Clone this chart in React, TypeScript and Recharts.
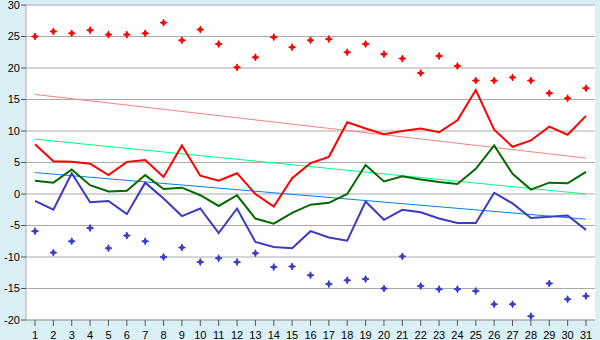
import React from 'react';
import { ComposedChart, Line, XAxis, YAxis, CartesianGrid, ReferenceLine } from 'recharts';

const days = Array.from({ length: 31 }, (_, i) => i + 1);
const maxTemps = [25.0, 25.8, 25.5, 26.0, 25.3, 25.3, 25.5, 27.2, 24.4, 26.1, 23.8, 20.1, 21.7, 24.9, 23.3, 24.4, 24.6, 22.5, 23.8, 22.2, 21.5, 19.2, 21.9, 20.3, 18.0, 18.0, 18.5, 18.0, 16.0, 15.2, 16.8];
const highLine = [7.9, 5.2, 5.1, 4.8, 3.0, 5.1, 5.4, 2.7, 7.7, 2.9, 2.1, 3.3, 0.0, -2.0, 2.5, 4.9, 5.9, 11.4, 10.4, 9.5, 10.0, 10.4, 9.8, 11.7, 16.5, 10.2, 7.5, 8.5, 10.7, 9.4, 12.4];
const meanLine = [2.1, 1.8, 3.9, 1.4, 0.4, 0.5, 3.0, 0.8, 1.0, -0.2, -1.9, -0.2, -3.9, -4.7, -3.0, -1.7, -1.4, 0.0, 4.6, 2.0, 2.8, 2.3, 1.9, 1.6, 4.0, 7.7, 3.2, 0.7, 1.8, 1.7, 3.5];
const lowLine = [-1.1, -2.5, 3.3, -1.3, -1.1, -3.2, 1.8, -0.7, -3.5, -2.3, -6.2, -2.3, -7.6, -8.4, -8.6, -5.9, -6.9, -7.4, -1.2, -4.1, -2.5, -2.9, -3.9, -4.6, -4.6, 0.2, -1.5, -3.8, -3.6, -3.4, -5.7];
const minTemps = [-5.9, -9.3, -7.5, -5.4, -8.6, -6.6, -7.5, -10.0, -8.5, -10.8, -10.2, -10.8, -9.4, -11.6, -11.5, -12.9, -14.3, -13.7, -13.5, -15.0, -9.9, -14.6, -15.1, -15.1, -15.4, -17.5, -17.5, -19.4, -14.2, -16.7, -16.2];
const highTrend = [15.8, 5.7];
const meanTrend = [8.7, 0.0];
const lowTrend = [3.4, -4.0];
const yTicks = [-20, -15, -10, -5, 0, 5, 10, 15, 20, 25, 30];

const data = days.map((d, i) => ({
  day: d,
  max: maxTemps[i],
  high: highLine[i],
  mean: meanLine[i],
  low: lowLine[i],
  min: minTemps[i],
}));

const makeMarker = (color: string) => (props: any) => {
  const { cx, cy, index } = props;
  if (cx == null || cy == null) return <g key={index} />;
  const d = `M${cx} ${cy - 3.5} L${cx + 1} ${cy - 1} L${cx + 3.5} ${cy} L${cx + 1} ${cy + 1} L${cx} ${cy + 3.5} L${cx - 1} ${cy + 1} L${cx - 3.5} ${cy} L${cx - 1} ${cy - 1} Z`;
  return (
    <g key={index}>
      <path d={d} fill={color} stroke={color} strokeWidth={1} />
    </g>
  );
};

const tickStyle = { fontFamily: '"Liberation Sans", Arial, sans-serif', fontSize: 11, fill: '#000' };

export default function App() {
  const first = days[0];
  const last = days[days.length - 1];
  return (
    <div style={{ position: 'fixed', left: 0, top: 0, width: 600, height: 340, background: '#daeff6' }}>
      <ComposedChart width={600} height={340} data={data} margin={{ top: 5, right: 5, bottom: 0, left: 0 }}>
        <CartesianGrid vertical={false} stroke="#aaaaaa" fill="#ffffff" />
        <XAxis
          dataKey="day"
          type="category"
          height={20}
          padding={{ left: 9, right: 9 }}
          tick={tickStyle}
          tickSize={6}
          tickMargin={5}
          interval={0}
          tickLine={{ stroke: '#555555' }}
          axisLine={{ stroke: '#aaaaaa' }}
        />
        <YAxis
          domain={[-20, 30]}
          ticks={yTicks}
          width={26}
          tick={tickStyle}
          tickSize={5}
          tickMargin={1}
          interval={0}
          allowDataOverflow
          tickLine={{ stroke: '#555555' }}
          axisLine={{ stroke: '#aaaaaa' }}
        />
        <YAxis yAxisId="r" orientation="right" width={0} tick={false} tickLine={false} axisLine={{ stroke: '#aaaaaa' }} />
        <ReferenceLine segment={[{ x: first, y: highTrend[0] }, { x: last, y: highTrend[1] }]} stroke="#ff8080" strokeWidth={1} />
        <ReferenceLine segment={[{ x: first, y: meanTrend[0] }, { x: last, y: meanTrend[1] }]} stroke="#00ff80" strokeWidth={1} />
        <ReferenceLine segment={[{ x: first, y: lowTrend[0] }, { x: last, y: lowTrend[1] }]} stroke="#0080ff" strokeWidth={1} />
        <Line dataKey="high" stroke="#ff0000" strokeWidth={2} dot={false} isAnimationActive={false} />
        <Line dataKey="mean" stroke="#006a00" strokeWidth={2} dot={false} isAnimationActive={false} />
        <Line dataKey="low" stroke="#3a3ac8" strokeWidth={2} dot={false} isAnimationActive={false} />
        <Line dataKey="max" stroke="none" dot={makeMarker('#ff0000')} activeDot={false} isAnimationActive={false} />
        <Line dataKey="min" stroke="none" dot={makeMarker('#3a3ac8')} activeDot={false} isAnimationActive={false} />
      </ComposedChart>
    </div>
  );
}
